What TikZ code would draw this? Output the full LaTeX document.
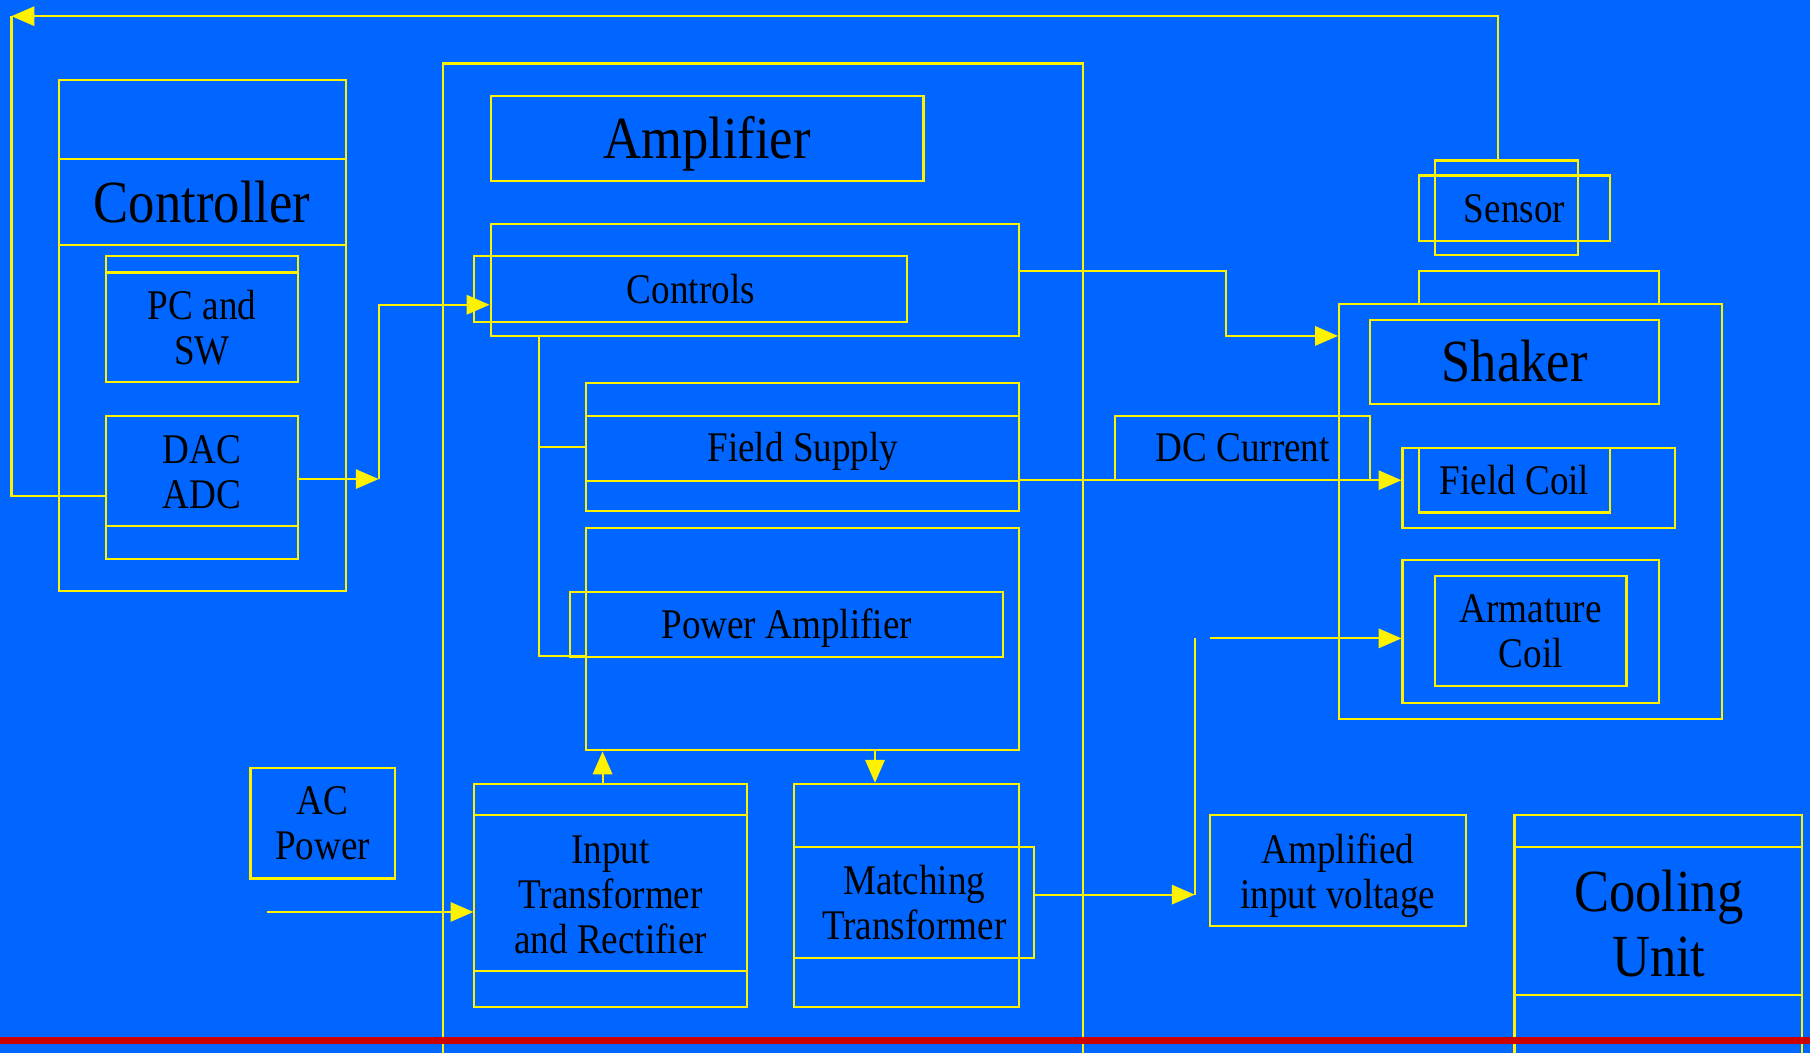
\documentclass[tikz,border=0pt]{standalone}
\usepackage{fontspec}
\setmainfont{Liberation Serif}[FakeStretch=0.88]
\usetikzlibrary{arrows.meta, calc, fit, positioning}
\definecolor{slideblue}{RGB}{0,102,255}
\definecolor{slidered}{RGB}{204,0,0}
\tikzset{
  blk/.style={draw=yellow, line width=0.6pt, inner sep=0pt},
  lbl/.style={align=center, font=\fontsize{12}{12.8}\selectfont},
  biglbl/.style={align=center, font=\fontsize{17}{18.4}\selectfont},
  oneline/.style={text height=11pt, text depth=3pt},
  bigone/.style={text height=15.2pt, text depth=4pt},
  wire/.style={draw=yellow, line width=0.6pt}
}

\begin{document}
\begin{tikzpicture}[x=0.011543cm, y=-0.011543cm, >={Triangle[length=6.5pt,width=5.5pt]}]
\fill[slideblue] (0,0) rectangle (1568,912);
\useasboundingbox (0,0) rectangle (1568,912);
\clip (0,0) rectangle (1568,912);

% controller
\node[blk, fit={(51,69) (300,512)}] (ctrl) {};
\draw[wire] (ctrl.west |- 0,138) -- (ctrl.east |- 0,138);
\draw[wire] (ctrl.west |- 0,212) -- (ctrl.east |- 0,212);
\node[biglbl, bigone] at (175,176) (ctrltxt) {Controller};
\node[blk, fit={(92,222) (258,331)}] (pcsw) {};
\draw[wire] (pcsw.west |- 0,236) -- (pcsw.east |- 0,236);
\node[lbl] at (175,284) (pcswtxt) {PC and\\SW};
\node[blk, fit={(92,360) (258,484)}] (dac) {};
\draw[wire] (dac.west |- 0,456) -- (dac.east |- 0,456);
\node[lbl] at (175,409) (dactxt) {DAC\\ADC};

% amplifier
\node[blk, fit={(384,55) (938,940)}] (amp) {};
\node[blk, fit={(425,83) (800,157)}] (amptitle) {};
\node[biglbl, bigone] at (amptitle.center) (amptxt) {Amplifier};
\node[blk, fit={(425,194) (883,291)}] (ctrlsouter) {};
\node[blk, fit={(411,222) (786,279)}] (controls) {};
\node[lbl, oneline] at (controls.center) (controlstxt) {Controls};
\node[blk, fit={(508,332) (883,443)}] (field) {};
\draw[wire] (field.west |- 0,360) -- (field.east |- 0,360);
\draw[wire] (field.west |- 0,417) -- (field.east |- 0,417);
\node[lbl, oneline] at (field.center) (fieldtxt) {Field Supply};
\node[blk, fit={(508,457) (883,650)}] (pwrouter) {};
\node[blk, fit={(494,513) (869,569)}] (pwr) {};
\node[lbl, oneline] at (pwr.center) (pwrtxt) {Power Amplifier};
\node[blk, fit={(411,679) (647,872)}] (intr) {};
\draw[wire] (intr.west |- 0,706) -- (intr.east |- 0,706);
\draw[wire] (intr.west |- 0,841) -- (intr.east |- 0,841);
\node[lbl] at (intr.center) (intrtxt) {Input\\Transformer\\and Rectifier};
\node[blk, fit={(688,679) (883,872)}] (match) {};
\node[blk, fit={(688,734) (896,830)}] (matchin) {};
\node[lbl] at (matchin.center) (matchtxt) {Matching\\Transformer};
\node[blk, fit={(217,665) (342,761)}] (acpow) {};
\node[lbl] at (acpow.center) (acpowtxt) {AC\\Power};

% shaker side
\node[blk, fit={(966,360) (1187,416)}] (dccur) {};
\node[lbl, oneline] at (dccur.center) (dccurtxt) {DC Current};
\node[blk, fit={(1243,139) (1367,221)}] (sensA) {};
\node[blk, fit={(1229,152) (1395,209)}] (sensB) {};
\node[lbl, oneline] at (sensB.center) (senstxt) {Sensor};
\node[blk, fit={(1229,235) (1437,263)}] (shktab) {};
\node[blk, fit={(1160,263) (1492,623)}] (shaker) {};
\node[blk, fit={(1187,277) (1437,350)}] (shktitle) {};
\node[biglbl, bigone] at (shktitle.center) (shktxt) {Shaker};
\node[blk, fit={(1215,388) (1451,457)}] (fcoil) {};
\node[blk, fit={(1229,388) (1395,444)}] (fcoilin) {};
\node[lbl, oneline] at (fcoilin.center) (fcoiltxt) {Field Coil};
\node[blk, fit={(1215,485) (1437,609)}] (arm) {};
\node[blk, fit={(1243,499) (1409,594)}] (armin) {};
\node[lbl] at (armin.center) (armtxt) {Armature\\Coil};
\node[blk, fit={(1048,706) (1270,802)}] (ampvolt) {};
\node[lbl, yshift=-1.4pt] at (ampvolt.center) (ampvolttxt) {Amplified\\input voltage};
\node[blk, fit={(1312,706) (1561,940)}] (cool) {};
\draw[wire] (cool.west |- 0,734) -- (cool.east |- 0,734);
\draw[wire] (cool.west |- 0,862) -- (cool.east |- 0,862);
\node[biglbl] at (1437,800) (cooltxt) {Cooling\\Unit};

% connectors
\coordinate (fbtop) at (10,14);
\coordinate (j1) at (328,415);
\coordinate (j2) at (328,264);
\coordinate (j3) at (1062,235);
\coordinate (j4) at (1062,291);
\coordinate (j5) at (467,568);
\coordinate (j6) at (1035,775);
\coordinate (j7) at (1035,553);
\coordinate (j8) at (1048,553);
\coordinate (acin) at (231,790);
\draw[wire, ->] (sensA.north -| 1298,0) |- (fbtop);
\draw[wire] (fbtop) |- (dac.west |- 0,430);
\draw[wire, ->] (dac.east |- j1) -- (j1);
\draw[wire, ->] (j1) -- (j2) -- (j2 -| ctrlsouter.west);
\draw[wire, ->] (ctrlsouter.east |- j3) -- (j3) -- (j4) -- (j4 -| shaker.west);
\draw[wire] (ctrlsouter.south -| j5) -- (j5) -- (j5 -| pwrouter.west);
\draw[wire] (j5 |- field.west) -- (field.west);
\draw[wire, ->] (field.east |- fcoilin.center) -- (fcoilin.center -| fcoil.west);
\draw[wire, ->] (intr.north -| 522,0) -- (pwrouter.south -| 522,0);
\draw[wire, ->] (pwrouter.south -| 758,0) -- (match.north -| 758,0);
\draw[wire, ->] (acin) -- (acin -| intr.west);
\draw[wire, ->] (matchin.east |- j6) -- (j6);
\draw[wire] (j6) -- (j7);
\draw[wire, ->] (j8) -- (j8 -| arm.west);

\fill[slidered] (0,898) rectangle (1568,904);
\end{tikzpicture}
\end{document}
